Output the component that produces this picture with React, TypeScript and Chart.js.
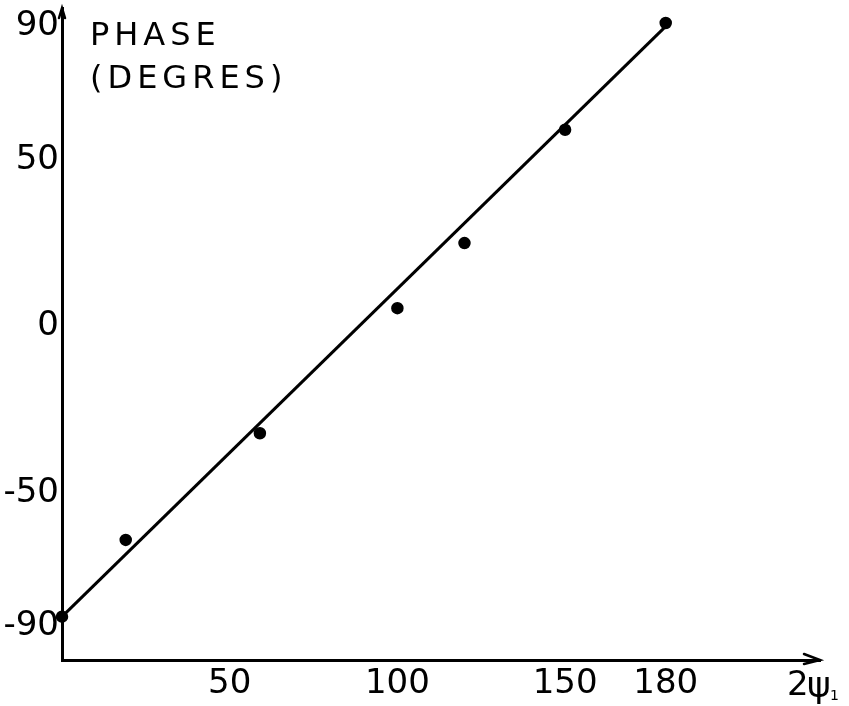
import { useEffect, useRef } from "react";
import { Chart, registerables } from "chart.js";

Chart.register(...registerables);

// measured points: 2ψ1 (degrees) vs phase (degrees)
const angleX = [0, 19, 59, 100, 120, 150, 180];
const phaseY = [-87, -64, -32, 5.5, 25, 59, 91];
// fitted straight line
const fitX = [0, 180];
const fitY = [-87, 90];

const xTicks = [50, 100, 150, 180];
const yTicks = [-90, -50, 0, 50, 90];
const yTickLabels = ["-90", "-50", "0", "50", "90"];
const xTickLabels = ["50", "100", "150", "180"];
const titleLines = ["PHASE", "(DEGRES)"];
const xAxisMain = "2";
const xAxisPsi = "ψ";
const xAxisSub = "1";

const FONT = "'DejaVu Sans', 'Liberation Sans', sans-serif";

const decorations = {
  id: "decorations",
  afterDraw(chart: any) {
    const { ctx, chartArea } = chart;
    const { left, right, top, bottom } = chartArea;
    ctx.save();
    ctx.strokeStyle = "#000";
    ctx.fillStyle = "#000";
    ctx.lineWidth = 2.5;
    ctx.lineCap = "round";
    // y axis arrow head
    ctx.beginPath();
    ctx.moveTo(left - 3, top + 10);
    ctx.lineTo(left, top);
    ctx.lineTo(left + 3, top + 10);
    ctx.stroke();
    // x axis arrow head
    ctx.beginPath();
    ctx.moveTo(right - 16, bottom - 6);
    ctx.lineTo(right, bottom);
    ctx.lineTo(right - 16, bottom + 4);
    ctx.stroke();
    // title
    ctx.font = `32px ${FONT}`;
    (ctx as any).letterSpacing = "5px";
    ctx.textAlign = "left";
    ctx.textBaseline = "alphabetic";
    ctx.fillText(titleLines[0], left + 28, top + 37);
    ctx.fillText(titleLines[1], left + 28, top + 80);
    (ctx as any).letterSpacing = "0px";
    // x axis label
    ctx.font = `34px ${FONT}`;
    ctx.fillText(xAxisMain, right - 33, bottom + 35);
    ctx.font = `36px ${FONT}`;
    ctx.fillText(xAxisPsi, right - 13, bottom + 37);
    ctx.font = `14px ${FONT}`;
    ctx.fillText(xAxisSub, right + 10, bottom + 40);
    ctx.restore();
  },
};

export default function App() {
  const ref = useRef<HTMLCanvasElement>(null);
  useEffect(() => {
    document.body.style.margin = "0";
    const chart = new Chart(ref.current!, {
      type: "scatter",
      data: {
        datasets: [
          {
            data: fitX.map((x, i) => ({ x, y: fitY[i] })),
            showLine: true,
            borderColor: "#000",
            borderWidth: 3,
            pointRadius: 0,
            clip: false as any,
          },
          {
            data: angleX.map((x, i) => ({ x, y: phaseY[i] })),
            backgroundColor: "#000",
            borderColor: "#000",
            borderWidth: 1.5,
            pointRadius: 5.5,
            clip: false as any,
          },
        ],
      },
      options: {
        animation: false,
        responsive: false,
        events: [],
        layout: { padding: { top: 8, right: 29, left: 0, bottom: 0 } },
        plugins: {
          legend: { display: false },
          tooltip: { enabled: false },
          title: { display: false },
        },
        scales: {
          x: {
            type: "linear",
            min: 0,
            max: 226,
            afterBuildTicks: (s: any) => {
              s.ticks = xTicks.map((v) => ({ value: v }));
            },
            afterFit: (s: any) => {
              s.height = 46;
              s.paddingLeft = 0;
              s.paddingRight = 0;
            },
            ticks: {
              color: "#000",
              font: { size: 34, family: FONT },
              padding: 4,
              maxRotation: 0,
              autoSkip: false,
              callback: (v: any) => xTickLabels[xTicks.indexOf(Number(v))] ?? "",
            },
            grid: { drawOnChartArea: false, drawTicks: false, color: "transparent" },
            border: { display: true, color: "#000", width: 3 },
          },
          y: {
            type: "linear",
            min: -100,
            max: 95.5,
            afterBuildTicks: (s: any) => {
              s.ticks = yTicks.map((v) => ({ value: v }));
            },
            afterFit: (s: any) => {
              s.width = 62;
              s.paddingTop = 0;
              s.paddingBottom = 0;
            },
            ticks: {
              color: "#000",
              font: { size: 34, family: FONT },
              padding: 3,
              autoSkip: false,
              callback: (v: any) => yTickLabels[yTicks.indexOf(Number(v))] ?? "",
            },
            grid: { drawOnChartArea: false, drawTicks: false, color: "transparent" },
            border: { display: true, color: "#000", width: 3 },
          },
        },
      },
      plugins: [decorations],
    });
    return () => chart.destroy();
  }, []);
  return (
    <div style={{ width: 849, height: 706, background: "#fff" }}>
      <canvas ref={ref} width={849} height={706} style={{ display: "block" }} />
    </div>
  );
}
